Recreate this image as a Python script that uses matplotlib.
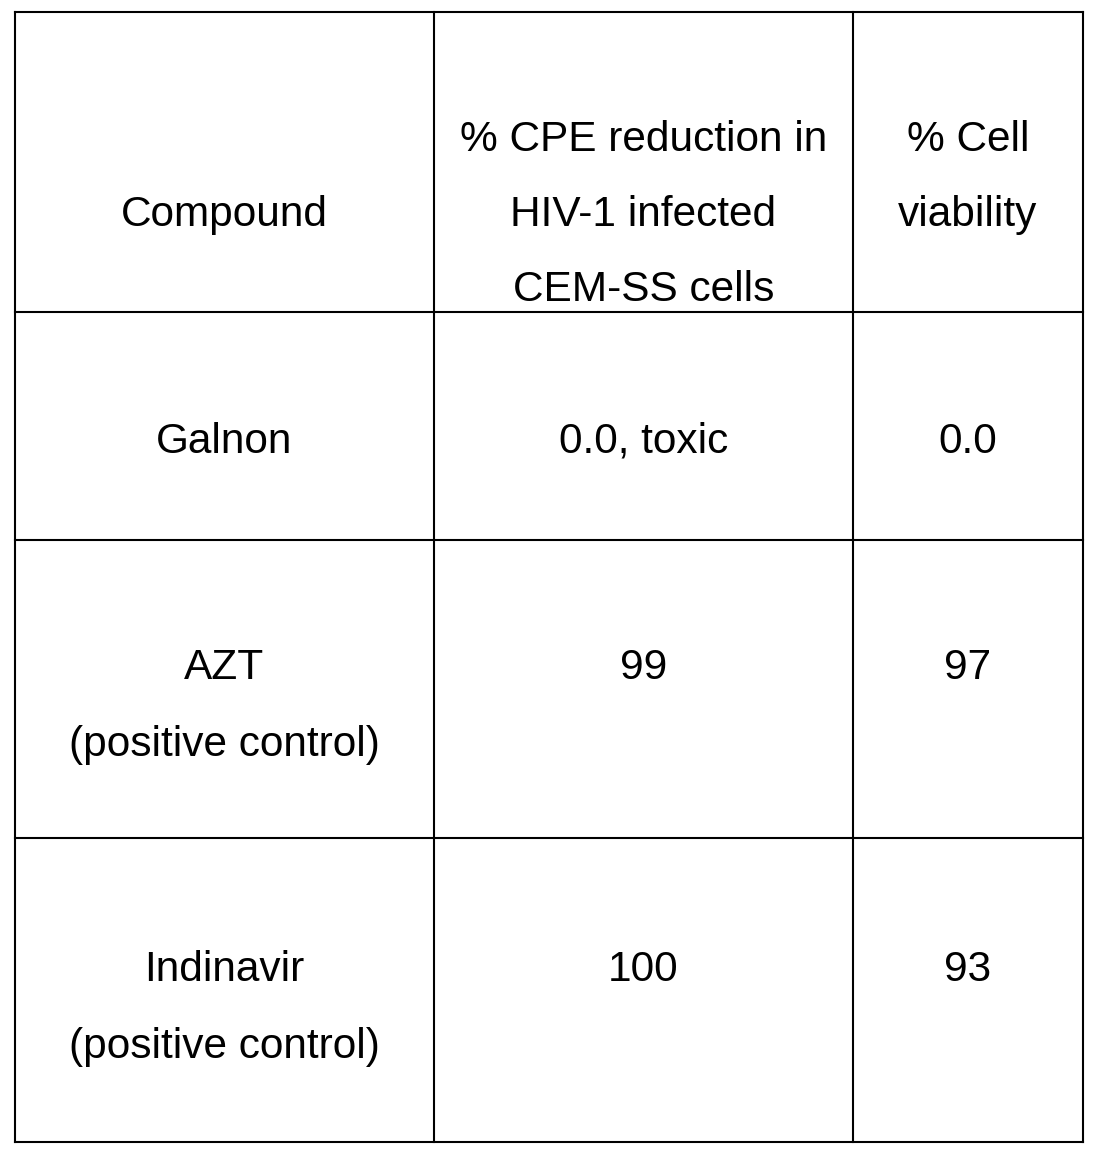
import matplotlib.pyplot as plt

# table contents
headers = ["Compound", "% CPE reduction in\nHIV-1 infected\nCEM-SS cells", "% Cell\nviability"]
compounds = ["Galnon", "AZT\n(positive control)", "Indinavir\n(positive control)"]
cpe_reduction = ["0.0, toxic", "99", "100"]
cell_viability = ["0.0", "97", "93"]

W, H = 1099, 1159
col_x = [15, 434, 853, 1083]
row_y = [12, 312, 540, 838, 1142]
FS = 30.5

fig = plt.figure(figsize=(W / 100, H / 100), dpi=100)
ax = fig.add_axes([0, 0, 1, 1])
ax.set_xlim(0, W)
ax.set_ylim(H, 0)
ax.axis('off')

for x in col_x:
    ax.plot([x, x], [row_y[0], row_y[-1]], color='black', lw=1.5)
for y in row_y:
    ax.plot([col_x[0], col_x[-1]], [y, y], color='black', lw=1.5)

centers = [(col_x[i] + col_x[i + 1]) / 2 for i in range(3)]


def put(cx, y0, txt, step):
    for k, line in enumerate(txt.split('\n')):
        ax.text(cx, y0 + k * step, line, va='center', ha='center',
                fontsize=FS, family='Liberation Sans')


# header row: vertically centred around y=215
for cx, txt in zip(centers, headers):
    n = txt.count('\n') + 1
    put(cx, 215 - (n - 1) * 75 / 2 if n != 2 else 140, txt, 75)

first_line_y = [442, 668, 970]
for r in range(3):
    for cx, txt in zip(centers, [compounds[r], cpe_reduction[r], cell_viability[r]]):
        put(cx, first_line_y[r], txt, 77)

fig.savefig('out.png', dpi=100, facecolor='white')
